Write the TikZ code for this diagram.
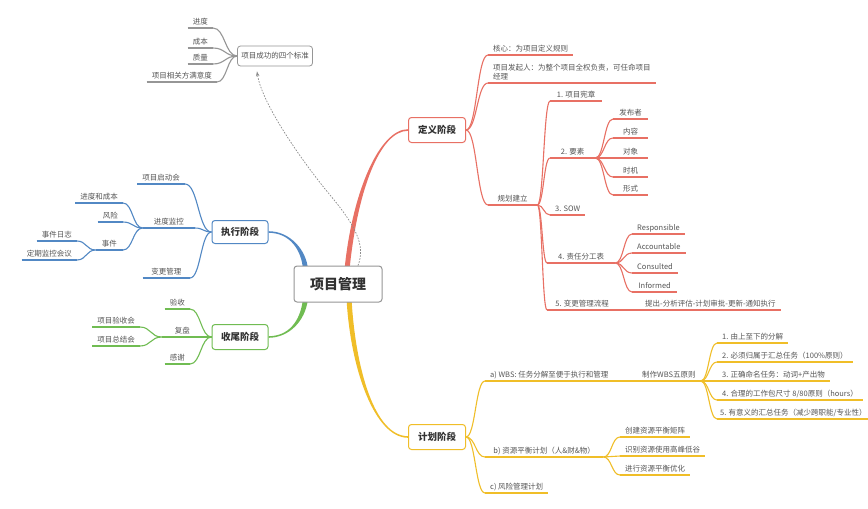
\documentclass[tikz,border=0pt]{standalone}
\usepackage{fontspec}
\setmainfont{Noto Sans CJK SC}
\usetikzlibrary{arrows.meta,calc,backgrounds}
\definecolor{defred}{RGB}{232,112,100}
\definecolor{execblue}{RGB}{82,136,196}
\definecolor{closegreen}{RGB}{112,188,82}
\definecolor{planyellow}{RGB}{240,190,40}
\definecolor{linegray}{RGB}{150,150,150}
\definecolor{txtgray}{RGB}{85,85,85}
\definecolor{darktxt}{RGB}{50,50,50}
\newcommand{\leaffont}{\fontsize{7.5}{9}\selectfont}
% S-shaped mind map connector between two points
\newcommand{\mlink}[3]{%
  \path ($(#2)!0.5!(#3)$) coordinate (mid);
  \draw[#1] (#2) .. controls (mid |- #2) and (mid |- #3) .. (#3);}

\begin{document}
\begin{tikzpicture}[x=1pt, y=-1pt,
    leaf/.style={font=\leaffont, text=txtgray, inner xsep=5pt, inner ysep=2pt, text depth=1.2pt},
    rline/.style={draw=defred, line width=1.1pt},
    bline/.style={draw=execblue, line width=1.1pt},
    gline/.style={draw=closegreen, line width=1.1pt},
    yline/.style={draw=planyellow, line width=1.1pt},
    sline/.style={draw=linegray, line width=1.1pt},
    rleaf/.style={leaf, anchor=south west, append after command={(\tikzlastnode.south west) edge[rline] (\tikzlastnode.south east)}},
    yleaf/.style={leaf, anchor=south west, append after command={(\tikzlastnode.south west) edge[yline] (\tikzlastnode.south east)}},
    bleaf/.style={leaf, anchor=south east, append after command={(\tikzlastnode.south west) edge[bline] (\tikzlastnode.south east)}},
    gleaf/.style={leaf, anchor=south east, append after command={(\tikzlastnode.south west) edge[gline] (\tikzlastnode.south east)}},
    sleaf/.style={leaf, anchor=south east, append after command={(\tikzlastnode.south west) edge[sline] (\tikzlastnode.south east)}},
    phase/.style={draw=#1, fill=white, rounded corners=3pt, line width=1pt, minimum width=57pt, minimum height=25pt, font=\bfseries\fontsize{9.5}{11}\selectfont, text=darktxt},
    dashconn/.style={draw=gray!90, line width=0.7pt, dash pattern=on 1.6pt off 1.4pt, -{Stealth[length=5pt,width=3.5pt]}}
]
    \begin{scope}[on background layer]
        \fill[white] (0,0) rectangle (868,509);
    \end{scope}
    \useasboundingbox (0,0) rectangle (868,509);

    % centre and phases
    \node[draw=linegray, fill=white, rounded corners=3pt, line width=1pt, minimum width=88pt, minimum height=36pt,
          font=\bfseries\fontsize{14}{16}\selectfont, text=darktxt] (main) at (338,284) {项目管理};
    \node[phase=defred] (def) at (437,130) {定义阶段};
    \node[phase=planyellow] (plan) at (437,437) {计划阶段};
    \node[phase=execblue, minimum width=56pt, minimum height=23pt] (exec) at (240,232) {执行阶段};
    \node[phase=closegreen, minimum width=56pt] (close) at (240,337) {收尾阶段};
    \node[draw=linegray, fill=white, rounded corners=3pt, line width=0.8pt, font=\leaffont, text=txtgray,
          minimum width=75pt, minimum height=20pt] (std) at (275,56) {项目成功的四个标准};

    % trunks
    \begin{scope}[on background layer]
        \coordinate (rA) at ($(main.north)+(9,4)$);
        \coordinate (bA) at ($(main.north west)+(12,4)$);
        \coordinate (gA) at ($(main.south west)+(12,-4)$);
        \coordinate (yA) at ($(main.south)+(11,-4)$);
        \fill[defred] ($(rA)+(-2.5,0)$) .. controls (352.5,190) and (380,129.2) .. ($(def.west)+(0,-0.8)$)
            -- ($(def.west)+(0,0.8)$) .. controls (380,130.8) and (357.5,190) .. ($(rA)+(2.5,0)$) -- cycle;
        \fill[execblue] ($(bA)+(-2.5,0)$) .. controls (301.5,250) and (290,232.8) .. ($(exec.east)+(0,0.8)$)
            -- ($(exec.east)+(0,-0.8)$) .. controls (290,231.2) and (306.5,250) .. ($(bA)+(2.5,0)$) -- cycle;
        \fill[closegreen] ($(gA)+(2.5,0)$) .. controls (305.5,322) and (288,337.8) .. ($(close.east)+(0,0.8)$)
            -- ($(close.east)+(0,-0.8)$) .. controls (288,336.2) and (300.5,322) .. ($(gA)+(-2.5,0)$) -- cycle;
        \fill[planyellow] ($(yA)+(2.5,0)$) .. controls (355.5,370) and (375,436.2) .. ($(plan.west)+(0,-0.8)$)
            -- ($(plan.west)+(0,0.8)$) .. controls (375,437.8) and (350.5,370) .. ($(yA)+(-2.5,0)$) -- cycle;
    \end{scope}

    % four criteria
    \node[sleaf] (sp) at (213,28) {进度};
    \node[sleaf] (sc) at (213,48) {成本};
    \node[sleaf] (sq) at (213,64) {质量};
    \node[sleaf] (ss) at (217,82) {项目相关方满意度};
    \mlink{sline}{std.west}{sp.south east}
    \mlink{sline}{std.west}{sc.south east}
    \mlink{sline}{std.west}{sq.south east}
    \mlink{sline}{std.west}{ss.south east}
    \draw[dashconn] ($(main.north)+(20,0)$) .. controls (366,245) and (355,225) .. (330,195)
        .. controls (305,165) and (262,105) .. ($(std.south)+(-18,5)$);

    % definition phase
    \node[rleaf] (core) at (488,55) {核心：为项目定义规则};
    \node[rleaf, align=left] (sponsor) at (488,83) {项目发起人：为整个项目全权负责，可任命项目\\经理};
    \node[rleaf, minimum width=49pt] (setup) at (488,205) {规划建立};
    \node[rleaf, minimum width=52pt] (charter) at (550,101) {1. 项目宪章};
    \node[rleaf, minimum width=45pt] (elem) at (550,158) {2. 要素};
    \node[rleaf, minimum width=35pt] (sow) at (550,215) {3. SOW};
    \node[rleaf, minimum width=68pt] (raci) at (547,263) {4. 责任分工表};
    \node[rleaf, minimum width=70pt] (change) at (547,310) {5. 变更管理流程};
    \node[rleaf] (flow) at (640,310) {提出-分析评估-计划审批-更新-通知执行};
    \node[rleaf, minimum width=35pt] (pub) at (613,119) {发布者};
    \node[rleaf, minimum width=35pt] (cont) at (613,138) {内容};
    \node[rleaf, minimum width=35pt] (aud) at (613,158) {对象};
    \node[rleaf, minimum width=35pt] (timing) at (613,177) {时机};
    \node[rleaf, minimum width=35pt] (form) at (613,195) {形式};
    \node[rleaf, minimum width=52pt] (resp) at (632,234) {Responsible};
    \node[rleaf, minimum width=52pt] (acc) at (632,253) {Accountable};
    \node[rleaf, minimum width=45pt] (cons) at (632,273) {Consulted};
    \node[rleaf, minimum width=45pt] (inf) at (632,292) {Informed};
    \mlink{rline}{def.east}{core.south west}
    \mlink{rline}{def.east}{sponsor.south west}
    \mlink{rline}{def.east}{setup.south west}
    \mlink{rline}{setup.south east}{charter.south west}
    \mlink{rline}{setup.south east}{elem.south west}
    \mlink{rline}{setup.south east}{sow.south west}
    \mlink{rline}{setup.south east}{raci.south west}
    \mlink{rline}{setup.south east}{change.south west}
    \draw[rline] (change.south east) -- (flow.south west);
    \mlink{rline}{elem.south east}{pub.south west}
    \mlink{rline}{elem.south east}{cont.south west}
    \mlink{rline}{elem.south east}{aud.south west}
    \mlink{rline}{elem.south east}{timing.south west}
    \mlink{rline}{elem.south east}{form.south west}
    \mlink{rline}{raci.south east}{resp.south west}
    \mlink{rline}{raci.south east}{acc.south west}
    \mlink{rline}{raci.south east}{cons.south west}
    \mlink{rline}{raci.south east}{inf.south west}

    % planning phase
    \node[yleaf] (wbs) at (485,381) {a) WBS: 任务分解至便于执行和管理};
    \node[yleaf] (rules) at (637,381) {制作WBS五原则};
    \node[yleaf] (p1) at (717,343) {1. 由上至下的分解};
    \node[yleaf] (p2) at (717,362) {2. 必须归属于汇总任务（100\%原则）};
    \node[yleaf] (p3) at (717,381) {3. 正确命名任务：动词+产出物};
    \node[yleaf] (p4) at (717,400) {4. 合理的工作包尺寸 8/80原则（hours）};
    \node[yleaf, inner xsep=3pt] (p5) at (717,419) {5. 有意义的汇总任务（减少跨职能/专业性）};
    \node[yleaf, minimum width=118pt] (res) at (485,457) {b) 资源平衡计划（人\&财\&物）};
    \node[yleaf] (r1) at (620,437) {创建资源平衡矩阵};
    \node[yleaf] (r2) at (620,456) {识别资源使用高峰低谷};
    \node[yleaf] (r3) at (620,475) {进行资源平衡优化};
    \node[yleaf] (riskplan) at (485,493) {c) 风险管理计划};
    \mlink{yline}{plan.east}{wbs.south west}
    \mlink{yline}{plan.east}{res.south west}
    \mlink{yline}{plan.east}{riskplan.south west}
    \draw[yline] (wbs.south east) -- (rules.south west);
    \mlink{yline}{rules.south east}{p1.south west}
    \mlink{yline}{rules.south east}{p2.south west}
    \mlink{yline}{rules.south east}{p3.south west}
    \mlink{yline}{rules.south east}{p4.south west}
    \mlink{yline}{rules.south east}{p5.south west}
    \mlink{yline}{res.south east}{r1.south west}
    \mlink{yline}{res.south east}{r2.south west}
    \mlink{yline}{res.south east}{r3.south west}

    % execution phase
    \node[bleaf] (kick) at (185,184) {项目启动会};
    \node[bleaf, minimum width=52pt] (monitor) at (195,228) {进度监控};
    \node[bleaf, minimum width=47pt] (chg) at (190,278) {变更管理};
    \node[bleaf] (sched) at (123,203) {进度和成本};
    \node[bleaf] (risk) at (123,222) {风险};
    \node[bleaf, minimum width=27pt] (event) at (123,250) {事件};
    \node[bleaf] (log) at (77,241) {事件日志};
    \node[bleaf] (meet) at (77,260) {定期监控会议};
    \mlink{bline}{exec.west}{kick.south east}
    \mlink{bline}{exec.west}{monitor.south east}
    \mlink{bline}{exec.west}{chg.south east}
    \mlink{bline}{monitor.south west}{sched.south east}
    \mlink{bline}{monitor.south west}{risk.south east}
    \mlink{bline}{monitor.south west}{event.south east}
    \mlink{bline}{event.south west}{log.south east}
    \mlink{bline}{event.south west}{meet.south east}

    % closing phase
    \node[gleaf] (accept) at (190,309) {验收};
    \node[gleaf, minimum width=41pt] (review) at (203,337) {复盘};
    \node[gleaf] (thanks) at (190,364) {感谢};
    \node[gleaf] (accmeet) at (140,327) {项目验收会};
    \node[gleaf] (summeet) at (140,346) {项目总结会};
    \mlink{gline}{close.west}{accept.south east}
    \mlink{gline}{close.west}{review.south east}
    \mlink{gline}{close.west}{thanks.south east}
    \mlink{gline}{review.south west}{accmeet.south east}
    \mlink{gline}{review.south west}{summeet.south east}
\end{tikzpicture}
\end{document}
